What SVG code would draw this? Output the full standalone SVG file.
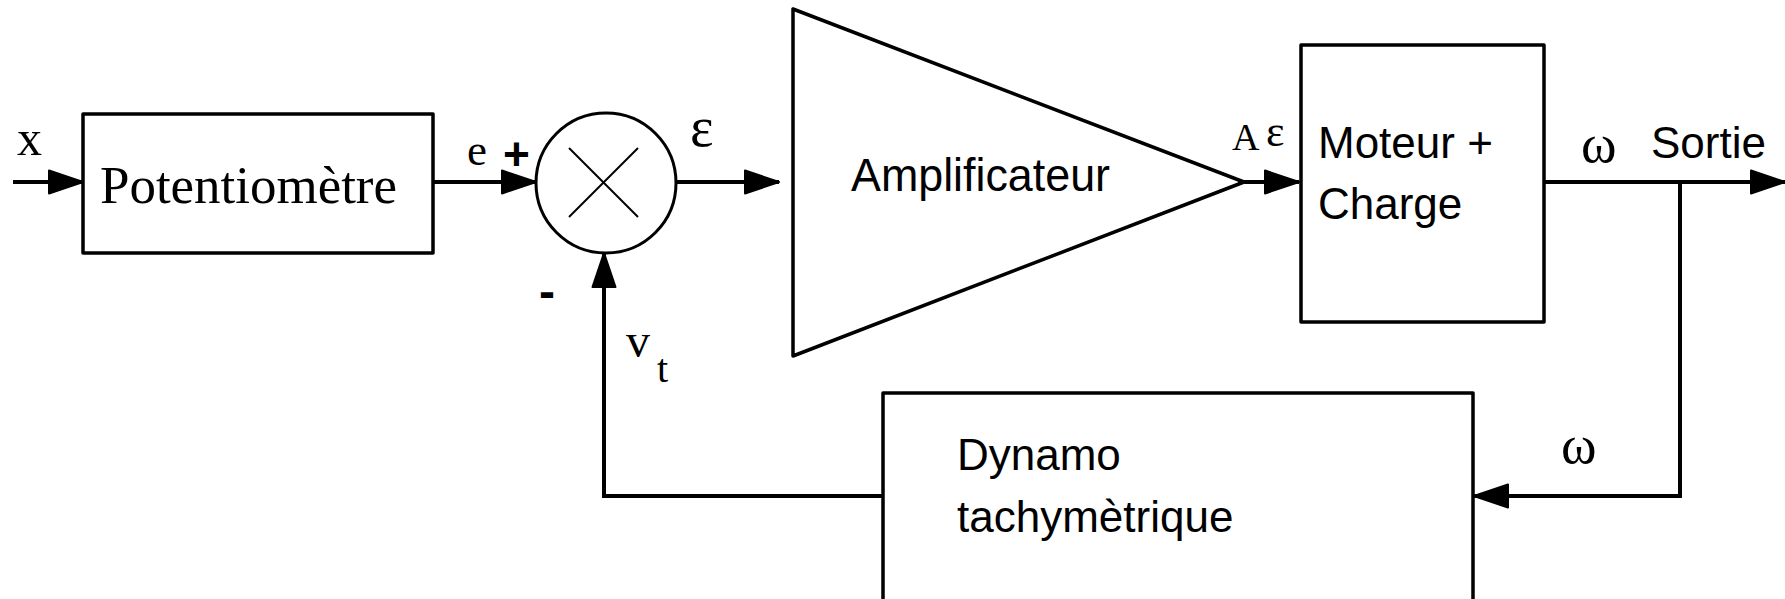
<svg xmlns="http://www.w3.org/2000/svg" width="1785" height="599" viewBox="0 0 1785 599">
<style>
.box{fill:none;stroke:#000;stroke-width:3.5;stroke-linejoin:round}
.ln{fill:none;stroke:#000;stroke-width:4}
.sans{font-family:"Liberation Sans",Arial,sans-serif;fill:#000}
.serif{font-family:"Liberation Serif","Times New Roman",serif;fill:#000}
</style>
<defs>
<marker id="ah" markerUnits="userSpaceOnUse" markerWidth="36" markerHeight="26" refX="35" refY="13" orient="auto">
<path d="M1,1.5 L35,13 L1,24.5 Z" fill="#000" stroke="#000" stroke-width="2" stroke-linejoin="round"/>
</marker>
</defs>
<rect width="1785" height="599" fill="#fff"/>
<g id="connectors">
<line class="ln" x1="13" y1="182" x2="83" y2="182" marker-end="url(#ah)"/>
<line class="ln" x1="433" y1="182" x2="536" y2="182" marker-end="url(#ah)"/>
<line class="ln" x1="676" y1="182" x2="779" y2="182" marker-end="url(#ah)"/>
<line class="ln" x1="1238" y1="182" x2="1299" y2="182" marker-end="url(#ah)"/>
<line class="ln" x1="1544" y1="182" x2="1785" y2="182" marker-end="url(#ah)"/>
<path class="ln" d="M1680,182 V496 H1474" marker-end="url(#ah)"/>
<path class="ln" d="M884,496 H604 V253" marker-end="url(#ah)"/>
</g>
<g id="input-label">
<text class="serif" x="17" y="155" font-size="50">x</text>
</g>
<g id="potentiometre">
<rect class="box" x="83" y="114" width="350" height="139"/>
<text class="serif" x="100" y="203" font-size="52" textLength="297" lengthAdjust="spacingAndGlyphs">Potentiomètre</text>
</g>
<g id="e-label">
<text class="serif" x="467" y="165" font-size="45">e</text>
<text class="sans" x="503" y="170" font-size="46" font-weight="bold">+</text>
</g>
<g id="comparateur">
<circle cx="606" cy="183" r="70" fill="none" stroke="#000" stroke-width="3"/>
<line x1="569" y1="148" x2="638" y2="217" stroke="#000" stroke-width="2"/>
<line x1="638" y1="148" x2="569" y2="217" stroke="#000" stroke-width="2"/>
<text class="sans" x="539" y="308" font-size="48" font-weight="bold">-</text>
</g>
<g id="epsilon-label">
<text class="serif" x="690" y="146" font-size="56">ε</text>
</g>
<g id="amplificateur">
<polygon class="box" points="793,9 793,356 1244,182"/>
<text class="sans" x="851" y="191" font-size="46" textLength="259" lengthAdjust="spacingAndGlyphs">Amplificateur</text>
</g>
<g id="aepsilon-label">
<text class="serif" x="1232" y="150" font-size="38">A</text>
<text class="serif" x="1266" y="146" font-size="44">ε</text>
</g>
<g id="moteur">
<rect class="box" x="1301" y="45" width="243" height="277"/>
<text class="sans" x="1318" y="158" font-size="44">Moteur +</text>
<text class="sans" x="1318" y="219" font-size="44">Charge</text>
</g>
<g id="sortie-label">
<text class="serif" x="1581" y="162" font-size="54">ω</text>
<text class="sans" x="1651" y="158" font-size="44">Sortie</text>
</g>
<g id="dynamo">
<rect class="box" x="883" y="393" width="590" height="230"/>
<text class="sans" x="957" y="470" font-size="44">Dynamo</text>
<text class="sans" x="957" y="532" font-size="44">tachymètrique</text>
</g>
<g id="omega-feedback-label">
<text class="serif" x="1561" y="463" font-size="54">ω</text>
</g>
<g id="vt-label">
<text class="serif" x="626" y="357" font-size="48">v</text>
<text class="serif" x="657" y="382" font-size="40">t</text>
</g>
</svg>
